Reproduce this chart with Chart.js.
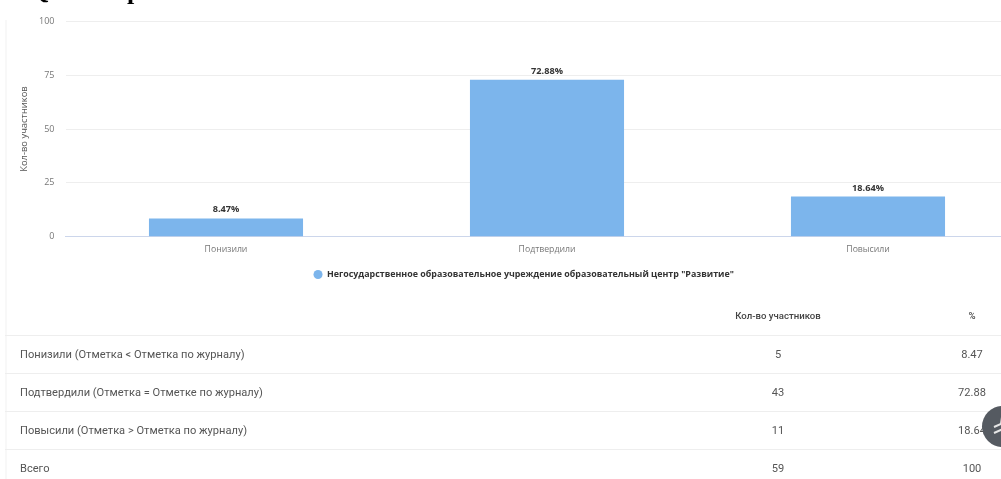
<!DOCTYPE html>
<html lang="ru"><head><meta charset="utf-8">
<script src="https://cdn.jsdelivr.net/npm/chart.js@4"></script>
<style>
html,body{margin:0;padding:0;background:#fff;width:1001px;height:479px;overflow:hidden}
#wrap{position:absolute;left:0;top:0;width:1001px;height:479px;overflow:hidden;filter:blur(.55px)}
.ttl{position:absolute;font:bold 26px "Liberation Serif",serif;color:#000;white-space:pre}
#chartbox{position:absolute;left:5px;top:5px;width:1034px;height:284px}
canvas{display:block}
#side{position:absolute;left:5px;top:20px;width:2px;height:459px;background:#f8f8f8}
table{position:absolute;left:5px;top:297px;width:996px;border-collapse:collapse;font:11.1px Roboto,sans-serif;color:#555;table-layout:fixed}
td,th{padding:0;height:37px;border-bottom:1px solid #eeeeee;font-weight:400}
th{font-size:9.6px;font-weight:500;color:#444;height:37.5px}
td:first-child{text-align:left;padding-left:15px}
td:nth-child(2),th:nth-child(2){width:330px;text-align:center}
td:nth-child(3),th:nth-child(3){width:58px;text-align:center}
tr:last-child td{border-bottom:none}
#up{position:absolute;left:982px;top:406px;width:41px;height:41px;border-radius:50%;background:#555a61}
</style></head><body>
<div id="wrap">
<div class="ttl" style="left:29px;top:-25px">Q</div>
<div class="ttl" style="left:127px;top:-24px">р</div>
<div id="side"></div>
<div id="chartbox"><canvas id="c" width="1034" height="284"></canvas></div>
<table id="t"></table>
<div id="up"><svg width="41" height="41" fill="none" stroke="#e6e6e6" stroke-width="2"><path d="M12 21l7-3 1-7M12 27l9-4 3-9"/></svg></div>
</div>
<script>
const categories = ["Понизили","Подтвердили","Повысили"];
const seriesName = 'Негосударственное образовательное учреждение образовательный центр "Развитие"';
const percentValues = [8.47,72.88,18.64];
const yTicks = [0,25,50,75,100];
const rowLabels = ["Понизили (Отметка < Отметка по журналу)","Подтвердили (Отметка = Отметке по журналу)","Повысили (Отметка > Отметка по журналу)","Всего"];
const counts = ["5","43","11","59"];
const pctCol = ["8.47","72.88","18.64","100"];
const headers = ["","Кол-во участников","%"];

const t=document.getElementById('t');
let h='<tr>'+headers.map(x=>'<th>'+x+'</th>').join('')+'</tr>';
rowLabels.forEach((r,i)=>{h+='<tr><td>'+r.replace('<','&lt;').replace('>','&gt;')+'</td><td>'+counts[i]+'</td><td>'+pctCol[i]+'</td></tr>';});
t.innerHTML=h;

const labelPlugin={id:'barLabels',afterDatasetsDraw(ch){
  const c=ch.ctx;c.save();c.font='bold 9.2px "Open Sans",sans-serif';c.fillStyle='#333';c.textAlign='center';c.textBaseline='bottom';
  ch.getDatasetMeta(0).data.forEach((b,i)=>c.fillText(percentValues[i].toFixed(2)+'%',b.x,b.y-4));
  c.restore();
}};
new Chart(document.getElementById('c'),{
  type:'bar',
  data:{labels:categories,datasets:[{label:seriesName,data:percentValues,backgroundColor:'#7cb5ec',barPercentage:.48,categoryPercentage:1}]},
  plugins:[labelPlugin],
  options:{responsive:false,animation:false,
    layout:{padding:{top:0,right:10.5,left:14,bottom:0}},
    plugins:{tooltip:{enabled:false},
      legend:{position:'bottom',labels:{usePointStyle:true,pointStyle:'circle',boxWidth:9,boxHeight:6.4,padding:15,color:'#333',font:{family:'"Open Sans",sans-serif',size:8.9,weight:'bold'}}}},
    scales:{
      x:{grid:{display:false},border:{color:'#ccd6eb'},ticks:{color:'#777',font:{family:'"Open Sans",sans-serif',size:8.7},padding:0}},
      y:{min:0,max:100,afterBuildTicks(a){a.ticks=yTicks.map(v=>({value:v}))},afterFit(a){a.width=46.5},
        grid:{color:'#eeeeee',drawTicks:false},border:{display:false},
        ticks:{color:'#777',padding:11,font:{family:'"Open Sans",sans-serif',size:9}},
        title:{display:true,text:'Кол-во участников',color:'#555',padding:{top:0,bottom:2},font:{family:'"Open Sans",sans-serif',size:9.4}}}
    }
  }
});
</script>
</body></html>
